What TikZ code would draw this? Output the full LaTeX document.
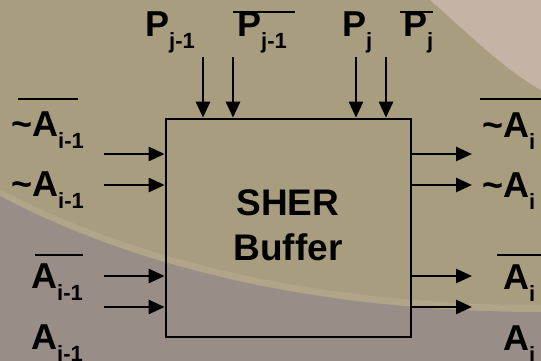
\documentclass[tikz,border=0pt]{standalone}
\usepackage{fontspec}
\setmainfont{Liberation Sans}
\usetikzlibrary{arrows.meta}
\definecolor{tanbg}{RGB}{169,157,128}
\definecolor{lowbg}{RGB}{153,141,135}
\definecolor{litebg}{RGB}{196,180,165}
\definecolor{bandbg}{RGB}{176,165,136}
\newcommand\lbl[2]{#1\raisebox{-12pt}{\fontsize{22}{22}\selectfont #2}}
\tikzset{
  arr/.style={line width=2.7pt,-{Triangle[length=16pt,width=14pt]}},
  ovl/.style={line width=2.5pt},
  sig/.style={anchor=base west,inner sep=0pt,font=\fontsize{36}{36}\selectfont\bfseries},
  bufbox/.style={draw,line width=2.7pt,minimum width=245pt,minimum height=218pt,inner sep=0pt},
  title/.style={align=center,inner sep=0pt,font=\fontsize{37}{45}\selectfont\bfseries}
}
\begin{document}
\begin{tikzpicture}[x=1pt,y=-1pt]
\useasboundingbox (0,0) rectangle (541,361);
% background
\fill[tanbg] (0,0) rectangle (541,361);
\fill[litebg] (430,0) .. controls (470,35) and (505,70) .. (541,90) -- (541,0) -- cycle;
\fill[bandbg] (0,189) .. controls (120,253) and (300,305) .. (541,305) -- (541,312) .. controls (300,312) and (120,260) .. (0,196) -- cycle;
\fill[lowbg] (0,196) .. controls (120,260) and (300,312) .. (541,312) -- (541,361) -- (0,361) -- cycle;
% box
\node[bufbox] (buf) at (288.5,228) {};
\node[title] (ttl) at (288,225) {SHER\\Buffer};
% top inputs
\coordinate (t1) at (203,57);
\coordinate (t2) at (233,57);
\coordinate (t3) at (356,57);
\coordinate (t4) at (386,57);
\foreach \c in {t1,t2,t3,t4} \draw[arr] (\c) -- (\c |- buf.north);
% left inputs
\coordinate (l1) at (104,154);
\coordinate (l2) at (104,185);
\coordinate (l3) at (104,276);
\coordinate (l4) at (104,307);
\foreach \c in {l1,l2,l3,l4} \draw[arr] (\c) -- (\c -| buf.west);
% right outputs
\coordinate (r1) at (472,154);
\coordinate (r2) at (472,185);
\coordinate (r3) at (472,276);
\coordinate (r4) at (472,307);
\foreach \c in {r1,r2,r3,r4} \draw[arr] (\c -| buf.east) -- (\c);
% top labels
\node[sig] (p1) at (145,37) {\lbl{P}{j-1}};
\node[sig] (p2) at (237,37) {\lbl{P}{j-1}};
\node[sig] (p3) at (342,37) {\lbl{P}{j}};
\node[sig] (p4) at (403,37) {\lbl{P}{j}};
\draw[ovl] (233,12) -- (295,12);
\draw[ovl] (400,12) -- (433,12);
% left labels
\node[sig] (a1) at (11,136) {\lbl{\textasciitilde A}{i-1}};
\node[sig] (a2) at (11,196) {\lbl{\textasciitilde A}{i-1}};
\node[sig] (a3) at (31,288) {\lbl{A}{i-1}};
\node[sig] (a4) at (31,349) {\lbl{A}{i-1}};
\draw[ovl] (18,99) -- (78,99);
\draw[ovl] (35,255) -- (83,255);
% right labels
\node[sig] (b1) at (482,137) {\lbl{\textasciitilde A}{i}};
\node[sig] (b2) at (482,197) {\lbl{\textasciitilde A}{i}};
\node[sig] (b3) at (503,289) {\lbl{A}{i}};
\node[sig] (b4) at (503,350) {\lbl{A}{i}};
\draw[ovl] (480,99) -- (541,99);
\draw[ovl] (497,255) -- (541,255);
\end{tikzpicture}
\end{document}
